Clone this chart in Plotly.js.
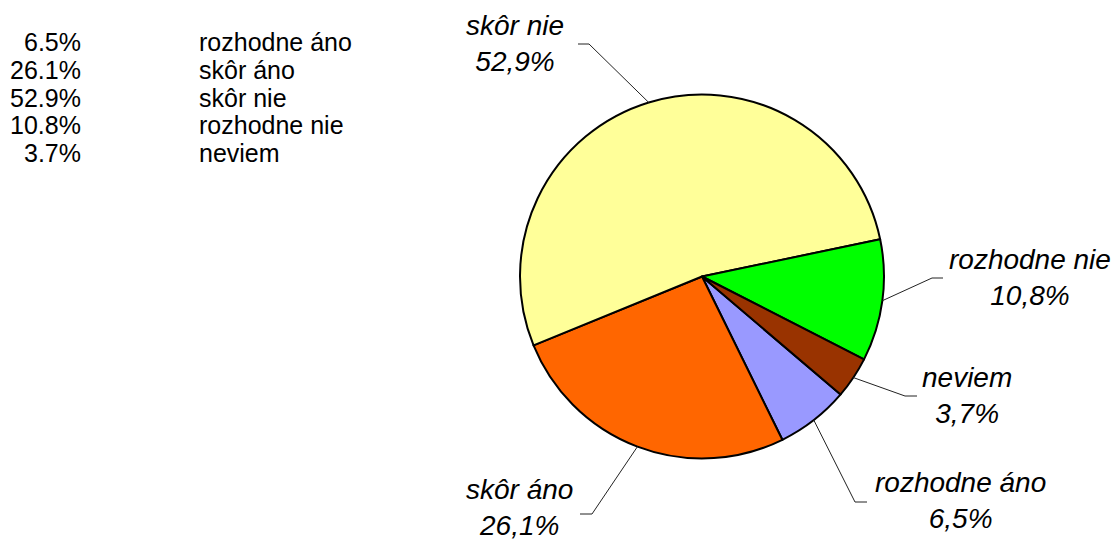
<!DOCTYPE html>
<html><head><meta charset="utf-8">
<script src="https://cdn.plot.ly/plotly-3.0.1.min.js"></script>
<style>html,body{margin:0;padding:0;background:#fff}#chart{width:1117px;height:541px}</style>
</head><body><div id="chart"></div>
<script>
// ---- data ----
const labels = ['rozhodne áno', 'skôr áno', 'skôr nie', 'rozhodne nie', 'neviem'];
const values = [6.5, 26.1, 52.9, 10.8, 3.7];
const colors = ['#9999FF', '#FF6600', '#FFFF99', '#00FF00', '#993300'];

// ---- layout config (pixels) ----
const W = 1117, H = 541;
const pie = {cx: 702, cy: 276.5, r: 182, start: 40.4};
// label centre, elbow of leader, end of short horizontal segment
const place = [
  {cx: 960, cy: 500, ex: 855, ey: 502, hx: 867},
  {cx: 519, cy: 507, ex: 592, ey: 514, hx: 580},
  {cx: 515, cy: 43,  ex: 589, ey: 44,  hx: 578},
  {cx: 1030, cy: 277, ex: 932, ey: 278, hx: 943},
  {cx: 967, cy: 395, ex: 905, ey: 396, hx: 917}
];
const legendCfg = {valRight: 82, labLeft: 198, y0: 42, dy: 27.8, valSize: 25, labSize: 25,
  family: '"Liberation Sans", Arial, sans-serif'};
const labelFont = {family: '"Liberation Sans", Arial, sans-serif', size: 28, color: '#000'};

const px = x => x / W, py = y => 1 - y / H;

const total = values.reduce((a, b) => a + b, 0);
const annotations = [], shapes = [];
let cum = 0;
values.forEach((v, i) => {
  const mid = (pie.start + (cum + v / 2) / total * 360) * Math.PI / 180;
  cum += v;
  const sx = pie.cx + pie.r * Math.cos(mid), sy = pie.cy + pie.r * Math.sin(mid);
  const p = place[i];
  shapes.push({type: 'line', xref: 'paper', yref: 'paper', x0: px(sx), y0: py(sy), x1: px(p.ex), y1: py(p.ey), line: {color: '#222', width: 1}});
  shapes.push({type: 'line', xref: 'paper', yref: 'paper', x0: px(p.ex), y0: py(p.ey), x1: px(p.hx), y1: py(p.ey), line: {color: '#222', width: 1}});
  annotations.push({xref: 'paper', yref: 'paper', x: px(p.cx), y: py(p.cy), xanchor: 'center', yanchor: 'middle',
    showarrow: false, align: 'center', font: labelFont, borderpad: 0,
    text: '<i>' + labels[i] + '<br>' + v.toFixed(1).replace('.', ',') + '%</i>'});
  // legend table
  const ly = legendCfg.y0 + legendCfg.dy * i;
  annotations.push({xref: 'paper', yref: 'paper', x: px(legendCfg.valRight), y: py(ly), xanchor: 'right', yanchor: 'middle',
    showarrow: false, borderpad: 0, font: {family: legendCfg.family, size: legendCfg.valSize, color: '#000'}, text: v.toFixed(1) + '%'});
  annotations.push({xref: 'paper', yref: 'paper', x: px(legendCfg.labLeft), y: py(ly), xanchor: 'left', yanchor: 'middle',
    showarrow: false, borderpad: 0, font: {family: legendCfg.family, size: legendCfg.labSize, color: '#000'}, text: labels[i]});
});

const trace = {
  type: 'pie', labels: labels, values: values, sort: false, direction: 'clockwise',
  rotation: 90 + pie.start, textinfo: 'none', hoverinfo: 'label+percent',
  marker: {colors: colors, line: {color: '#000', width: 2}},
  domain: {x: [px(pie.cx - pie.r), px(pie.cx + pie.r)], y: [py(pie.cy + pie.r), py(pie.cy - pie.r)]},
  showlegend: false
};

Plotly.newPlot('chart', [trace], {
  width: W, height: H, margin: {l: 0, r: 0, t: 0, b: 0},
  paper_bgcolor: '#fff', plot_bgcolor: '#fff', showlegend: false,
  annotations: annotations, shapes: shapes
}, {displayModeBar: false, staticPlot: true});
</script></body></html>
